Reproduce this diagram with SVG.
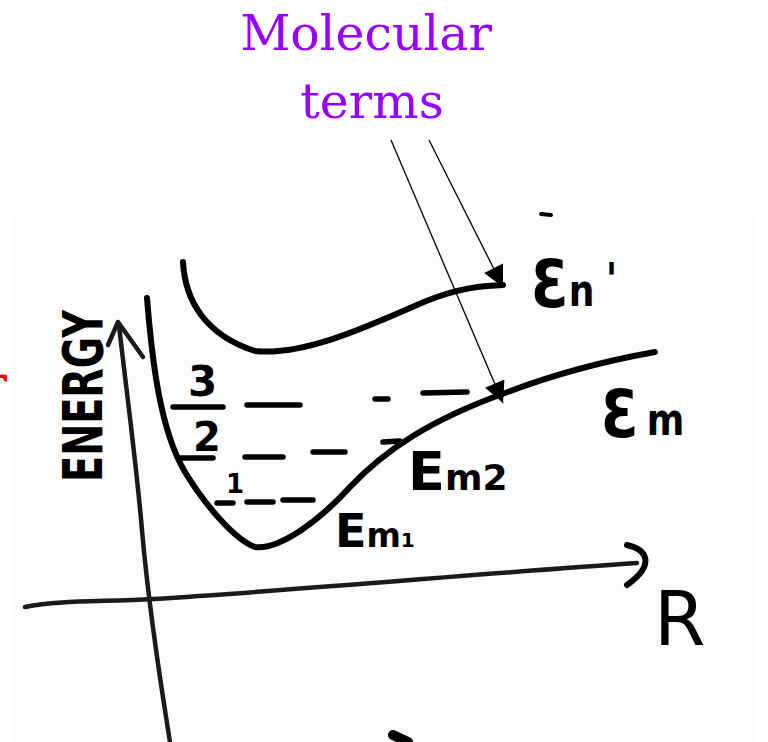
<svg xmlns="http://www.w3.org/2000/svg" width="768" height="742" viewBox="0 0 768 742">
<defs>
<marker id="tri" viewBox="0 0 10 10" refX="10" refY="5" markerWidth="24" markerHeight="21" markerUnits="userSpaceOnUse" orient="auto">
<path d="M0,0 L10,5 L0,10 z" fill="#000"/>
</marker>
<style>
.ink{fill:none;stroke:#000;stroke-linecap:round;stroke-linejoin:round}
.curve{stroke-width:6}
.axis{stroke-width:4.5;stroke:#1a1a1a}
.dash{stroke-width:5.5}
.hand{font-family:"DejaVu Sans",sans-serif;font-weight:bold;fill:#000}
.title{font-family:"DejaVu Serif",serif;fill:#9900ff;font-size:49px;text-anchor:middle}
.thin{fill:none;stroke:#000;stroke-width:1.3}
</style>
</defs>
<rect x="0" y="0" width="768" height="742" fill="#ffffff"/>
<rect x="12" y="215" width="743" height="527" fill="#fcfcfc"/>
<text x="-16" y="400" font-family="DejaVu Serif,serif" font-size="48" fill="#ff0000">r</text>

<g id="title">
<text class="title" x="366" y="50">Molecular</text>
<text class="title" x="372" y="118">terms</text>
</g>

<g id="axes">
<path class="ink axis" d="M170,742 C160,680 148,600 142,530 C136,460 125,380 119,325"/>
<path class="ink axis" d="M108,345 L118,322 L143,357"/>
<path class="ink axis" d="M25,607 C60,600 100,602 154,599 C300,590 500,572 637,563"/>
<path class="ink" stroke-width="6" d="M627,545 C648,550 655,565 627,585"/>
<text x="102" y="396" transform="rotate(-90 102 396)" class="hand" font-size="56" text-anchor="middle" textLength="172" lengthAdjust="spacingAndGlyphs">ENERGY</text>
<text x="654" y="645" font-family="DejaVu Sans,sans-serif" font-size="74" fill="#000">R</text>
</g>

<g id="curve-em-prime">
<path class="ink curve" d="M183,262 C185,300 205,335 255,351 C300,356 360,330 410,308 C445,292 470,286 503,285"/>
<text class="hand" transform="translate(531 307) scale(0.82 1)" x="0" y="0" font-size="66">Ɛ<tspan font-size="44" dy="-1">n</tspan><tspan font-size="46" dx="14" dy="-10">'</tspan></text>
</g>

<g id="curve-em">
<path class="ink curve" d="M147,298 C152,360 160,430 185,472 C205,505 235,540 255,547 C280,550 320,520 350,487 C385,450 430,420 505,393 C560,372 610,360 655,352"/>
<text class="hand" transform="translate(601 437) scale(0.82 1)" x="0" y="0" font-size="66">Ɛ<tspan font-size="44" dx="10" dy="-2">m</tspan></text>
</g>

<g id="levels">
<path class="ink dash" d="M173,407 L223,407 M247,405 L300,405 M375,399 L388,399 M423,393 L467,392"/>
<path class="ink dash" d="M180,458 L213,458 M245,457 L283,457 M313,452 L345,452 M383,442 L400,441"/>
<path class="ink dash" d="M217,503 L233,503 M247,502 L273,502 M283,500 L313,500"/>
<text class="hand" x="188" y="396" font-size="42">3</text>
<text class="hand" x="193" y="451" font-size="40">2</text>
<text class="hand" x="226" y="493" font-size="26">1</text>
</g>

<g id="labels-em">
<text class="hand" x="408" y="490" font-size="54">E<tspan font-size="36">m2</tspan></text>
<text class="hand" x="335" y="547" font-size="46">E<tspan font-size="33">m</tspan><tspan font-size="20">1</tspan></text>
</g>

<g id="connectors">
<line class="thin" x1="391" y1="140" x2="503" y2="403" marker-end="url(#tri)"/>
<line class="thin" x1="429" y1="140" x2="503" y2="287" marker-end="url(#tri)"/>
</g>

<g id="marks">
<path class="ink" stroke-width="4" d="M541,214 L551,215"/>
<path class="ink" stroke-width="10" d="M393,735 L408,742"/>
</g>
</svg>
